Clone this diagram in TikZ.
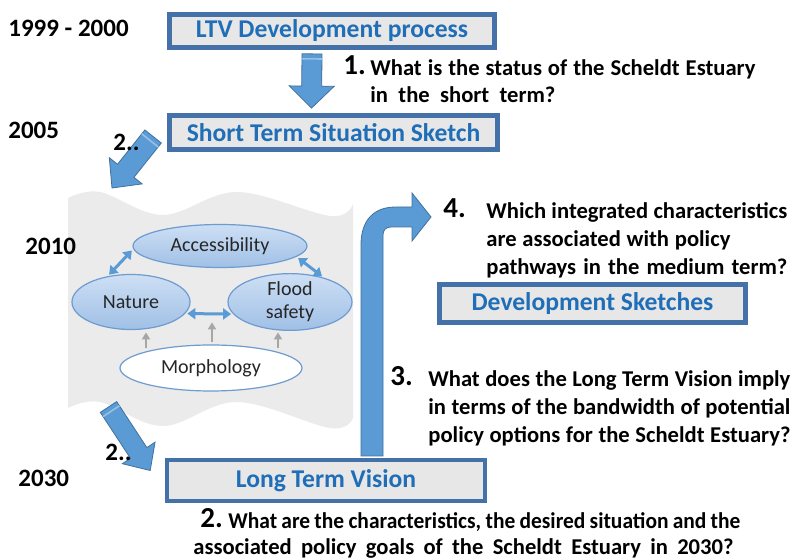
\documentclass[tikz,border=0pt]{standalone}
\usepackage{fontspec}
\setmainfont{Carlito}
\usetikzlibrary{calc,arrows.meta,shapes.geometric}
\definecolor{boxfill}{RGB}{231,231,231}
\definecolor{boxline}{RGB}{68,114,168}
\definecolor{titleblue}{RGB}{31,110,183}
\definecolor{arrowblue}{RGB}{91,155,213}
\definecolor{arrowline}{RGB}{65,113,156}
\definecolor{arrowlight}{RGB}{150,192,232}
\definecolor{ellfill}{RGB}{160,192,230}
\definecolor{ellfilltop}{RGB}{205,223,244}
\definecolor{ellline}{RGB}{110,155,208}
\definecolor{wavegray}{RGB}{235,235,235}
\definecolor{graya}{RGB}{166,166,166}
\definecolor{labeldark}{RGB}{38,38,38}
\newcommand{\blockarr}[5]{%
  \coordinate (bat) at (#1);
  \coordinate (bap) at (#2);
  \coordinate (bab) at ($(bap)!#5!(bat)$);
  \coordinate (bas) at ($(bat)!2.5pt!(bap)$);
  \filldraw[fill=arrowblue, draw=arrowline, line width=0.4pt, line join=miter]
    ($(bat)!#3!90:(bap)$) -- ($(bab)!#3!90:(bap)$) -- ($(bab)!#4!90:(bap)$) -- (bap)
    -- ($(bab)!#4!-90:(bap)$) -- ($(bab)!#3!-90:(bap)$) -- ($(bat)!#3!-90:(bap)$) -- cycle;
  \draw[arrowlight, line width=0.8pt] ($(bas)!#3!90:(bap)$) -- ($(bas)!#3!-90:(bap)$);
}
\newcommand{\fitline}[2]{\makebox[#1][s]{#2}}
\begin{document}
\begin{tikzpicture}[x=0.5pt,y=-0.5pt,
  titlebox/.style={draw=boxline, line width=2.4pt, fill=boxfill, text=titleblue,
    font=\bfseries\fontsize{12.8}{15}\selectfont, inner sep=0pt},
  year/.style={font=\bfseries\fontsize{12.5}{15}\selectfont, inner sep=0pt, anchor=base west},
  qtext/.style={font=\bfseries\fontsize{11.3}{13}\selectfont, inner sep=0pt, anchor=base west},
  qnum/.style={font=\bfseries\fontsize{14.5}{16}\selectfont, inner sep=0pt, anchor=base west},
  factor/.style={ellipse, draw=ellline, line width=0.6pt, top color=ellfilltop, bottom color=ellfill,
    inner sep=0pt, font=\fontsize{10}{11.5}\selectfont, text=labeldark, align=center},
  dblarr/.style={draw=arrowblue, line width=1.5pt, {Triangle[width=5.5pt,length=4pt]}-{Triangle[width=5.5pt,length=4pt]}, shorten <=1pt, shorten >=1pt},
  grayarr/.style={draw=graya, line width=1pt, -{Triangle[width=4pt,length=3.5pt]}}
]
\useasboundingbox (0,0) rectangle (793,560);
\fill[white] (0,0) rectangle (793,560);

% wavy background
\fill[wavegray] plot[smooth, tension=0.6] coordinates {(68,198) (100,192) (163,215) (237,192) (330,216) (353,204)}
  -- plot[smooth, tension=0.6] coordinates {(353,418) (330,428) (237,402) (163,426) (100,402) (68,408)} -- cycle;

% year labels
\node[year] (y1) at (8,37) {1999 - 2000};
\node[year] (y2) at (8,139) {2005};
\node[year] (y3) at (25,255) {2010};
\node[year] (y4) at (18,487) {2030};

% boxes
\node[titlebox, minimum width=162.5pt, minimum height=16.5pt] (ltv) at (332,31) {LTV Development process};
\node[titlebox, minimum width=164pt, minimum height=17pt] (sts) at (333.5,132.5) {Short Term Situation Sketch};
\node[titlebox, minimum width=153pt, minimum height=19pt] (dev) at (592.5,303.5) {Development Sketches};
\node[titlebox, line width=1.8pt, minimum width=159pt, minimum height=20.5pt] (ltvis) at (326,480.5) {Long Term Vision};

% block arrows
\blockarr{$(ltv.south)+(-20,4)$}{$(sts.north)+(-22,-5)$}{5pt}{11.25pt}{11pt}
\blockarr{$(sts.west)+(-14,4)$}{112,188}{5.25pt}{10.5pt}{11pt}
\blockarr{108.5,407}{$(ltvis.west)+(-15,-10)$}{4.9pt}{9.8pt}{10.5pt}

% bent arrow
\filldraw[fill=arrowblue, draw=arrowline, line width=0.4pt, line join=miter]
  (361,456) -- (361,245) .. controls (361,222) and (372,207) .. (396,207) -- (412,207) -- (412,193)
  -- (431,217) -- (412,241) -- (412,227) -- (391,227) .. controls (386,227) and (383,230) .. (383,235)
  -- (383,456) -- cycle;

% "2.." labels
\node[year] (two1) at (113,151) {2..};
\node[year] (two2) at (105,461) {2..};

% factor ellipses
\node[factor, minimum width=87pt, minimum height=21.5pt] (acc) at (220,246) {Accessibility};
\node[factor, minimum width=59pt, minimum height=27.5pt] (nat) at (131,302) {Nature};
\node[factor, minimum width=62pt, minimum height=26pt] (fld) at (290,302) {Flood\\safety};
\node[factor, top color=white, bottom color=white, fill=white, minimum width=91pt, minimum height=23pt] (mor) at (211,368) {Morphology};

\draw[dblarr] (nat.132) -- (acc.182);
\draw[dblarr] (acc.-8) -- (fld.36);
\draw[dblarr] (nat.-12) -- (fld.192);

\draw[grayarr] ($(mor.north)+(-65,4)$) -- ($(mor.north)+(-65,-12)$);
\draw[grayarr] ($(mor.north)+(1,-2)$) -- ($(mor.north)+(1,-22)$);
\draw[grayarr] ($(mor.north)+(67,4)$) -- ($(mor.north)+(67,-12)$);

% question 1
\node[qnum] (n1) at (343,75) {1.};
\node[qtext] (q1a) at (370,76) {\fitline{192.5pt}{What is the status of the Scheldt Estuary}};
\node[qtext] (q1b) at (370,103) {\fitline{92.5pt}{in the short term?}};

% question 4
\node[qnum] (n4) at (443,218) {4.};
\node[qtext] (q4a) at (486,219) {\fitline{150.5pt}{Which integrated characteristics}};
\node[qtext] (q4b) at (486,247) {\fitline{122pt}{are associated with policy}};
\node[qtext] (q4c) at (486,275) {\fitline{150.5pt}{pathways in the medium term?}};

% question 3
\node[qnum] (n3) at (390,386) {3.};
\node[qtext] (q3a) at (428,387) {\fitline{181pt}{What does the Long Term Vision imply}};
\node[qtext] (q3b) at (428,415) {\fitline{181pt}{in terms of the bandwidth of potential}};
\node[qtext] (q3c) at (428,443) {\fitline{181pt}{policy options for the Scheldt Estuary?}};

% question 2
\node[qnum] (n2) at (200,528) {2.};
\node[qtext] (q2a) at (228,529) {\scalebox{0.95}[1]{\fitline{269.5pt}{What are the characteristics, the desired situation and the}}};
\node[qtext] (q2b) at (193,555) {\fitline{270pt}{associated policy goals of the Scheldt Estuary in 2030?}};
\end{tikzpicture}
\end{document}
